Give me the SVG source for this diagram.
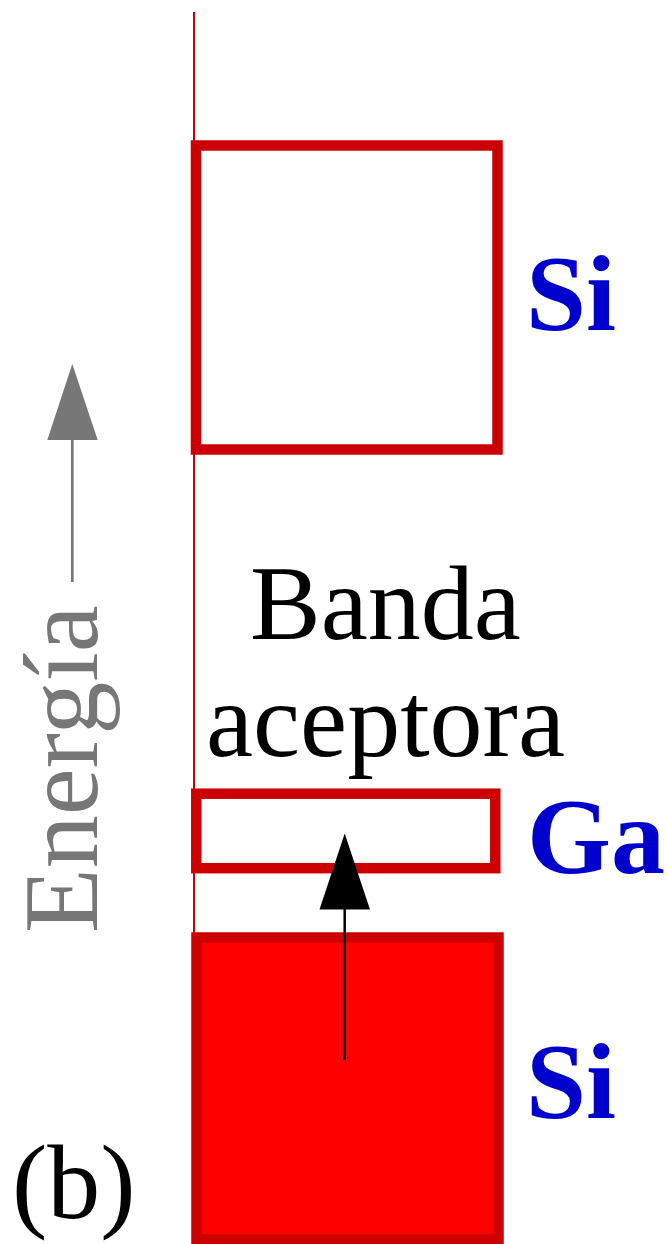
<svg xmlns="http://www.w3.org/2000/svg" width="668" height="1244" viewBox="0 0 668 1244">
<style>
.band{stroke:#cc0000;stroke-width:10.5;fill:none}
.filled{fill:#ff0000}
.lbl{font-family:"Liberation Serif","Times New Roman",serif;font-weight:bold;font-size:108px;fill:#0000cc}
.txt{font-family:"Liberation Serif","Times New Roman",serif;font-size:106px;fill:#000000}
.gray{font-family:"Liberation Serif","Times New Roman",serif;font-size:106px;fill:#777777}
</style>
<rect width="668" height="1244" fill="#ffffff"/>
<g id="axis">
<line x1="194" y1="12" x2="194" y2="1242" stroke="#cc0000" stroke-width="2"/>
</g>
<g id="si-conduction">
<rect class="band" x="196" y="145.5" width="301.5" height="304"/>
<text class="lbl" x="526" y="330">Si</text>
</g>
<g id="ga-acceptor">
<rect class="band" x="196.3" y="793.7" width="299" height="74.5"/>
<text class="lbl" x="527" y="873">Ga</text>
</g>
<g id="si-valence">
<rect class="band filled" x="196.5" y="937.5" width="302" height="302" stroke-width="11"/>
<text class="lbl" x="526" y="1118">Si</text>
</g>
<g id="label-banda">
<text class="txt" x="250" y="639">Banda</text>
<text class="txt" x="206" y="756">aceptora</text>
</g>
<g id="label-b">
<text class="txt" x="12" y="1218" font-size="104">(b)</text>
</g>
<g id="energy">
<text class="gray" transform="translate(97,933) rotate(-90)">Energía</text>
</g>
<g id="connectors">
<line x1="72.3" y1="582" x2="72.3" y2="438" stroke="#777777" stroke-width="2.7"/>
<polygon points="72.3,364 47.3,440 97.7,440" fill="#777777"/>
<line x1="344.7" y1="1060" x2="344.7" y2="907" stroke="#000000" stroke-width="2.5"/>
<polygon points="344.7,833.5 319.5,909.5 370,909.5" fill="#000000"/>
</g>
</svg>
